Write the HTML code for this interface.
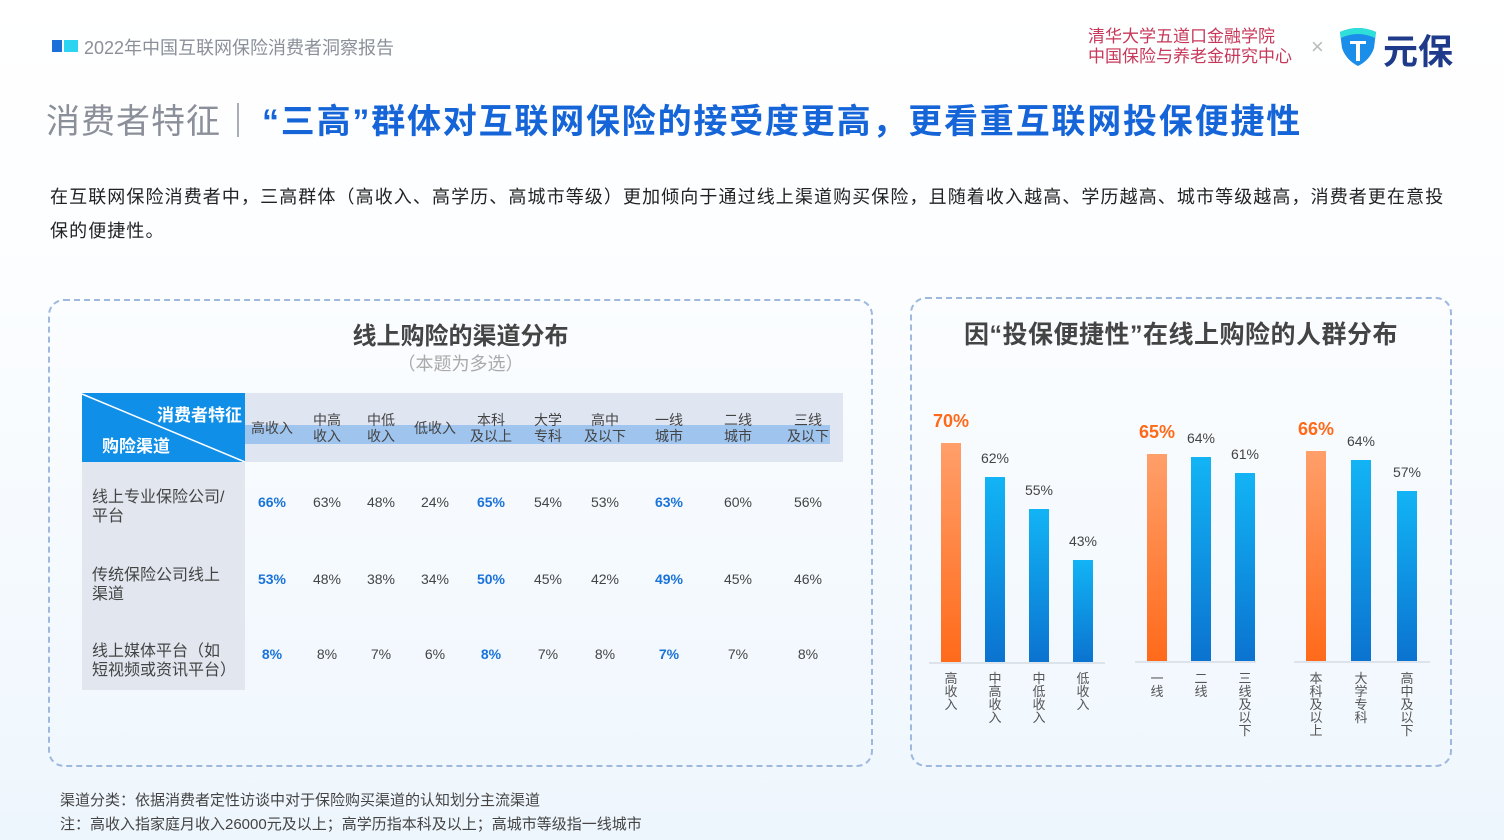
<!DOCTYPE html>
<html><head><meta charset="utf-8"><style>
*{margin:0;padding:0;box-sizing:border-box}
body{width:1504px;height:840px;position:relative;overflow:hidden;background:linear-gradient(#ffffff 0,#fbfdff 300px,#eef6fd 840px);font-family:"Liberation Sans","Noto Sans CJK SC",sans-serif;color:#333}
.a{position:absolute;white-space:nowrap}
.c{text-align:center}
.box{position:absolute;border:2px dashed #9fb8de;border-radius:16px}
.hc{position:absolute;top:393px;height:69px;font-size:14px;color:#444;line-height:16px;text-align:center;display:flex;align-items:center;justify-content:center}
.v{position:absolute;font-size:14px;color:#444;text-align:center;width:54px}
.b{color:#1a73d9;font-weight:bold}
.bar{position:absolute;width:20px;background:linear-gradient(#12b4f5,#0b73d0)}
.bar.o{background:linear-gradient(#ff9f6a,#ff6a1a)}
.bl{position:absolute;font-size:14px;color:#444;width:60px;text-align:center}
.bl.o{color:#ff6a1a;font-weight:bold;font-size:18px}
.xl{position:absolute;font-size:13px;color:#555;width:14px;line-height:13px;text-align:center;word-break:break-all;white-space:normal}
.base{position:absolute;height:2px;background:#dde3ea}
</style></head><body>
<div class="a" style="left:52px;top:40px;width:10px;height:12px;background:#1a6fd9"></div>
<div class="a" style="left:64px;top:40px;width:14px;height:12px;background:#2bd4f0"></div>
<div class="a" style="left:84px;top:34px;font-size:18px;color:#8a8f99">2022年中国互联网保险消费者洞察报告</div>
<div class="a" style="left:1088px;top:27px;font-size:17px;line-height:20px;color:#c7385a">清华大学五道口金融学院<br>中国保险与养老金研究中心</div>
<div class="a" style="left:1311px;top:34px;font-size:22px;color:#bbb">×</div>
<svg class="a" style="left:1338px;top:26px" width="40" height="42" viewBox="0 0 40 42"><path d="M2 6 Q20 -2 38 6 L36 22 Q32 34 20 40 Q8 34 4 22Z" fill="#1a8ee8"/><path d="M2 6 Q20 -2 38 6 L37 12 Q20 4 3 12Z" fill="#2ee0d8"/><rect x="12" y="15" width="16" height="3" fill="#fff"/><rect x="18" y="15" width="4" height="20" fill="#fff"/></svg>
<div class="a" style="left:1383px;top:24px;font-size:35px;font-weight:bold;color:#1e3a8a">元保</div>
<div class="a" style="left:46px;top:94px;font-size:34px;color:#8a8f99;letter-spacing:1px">消费者特征｜</div>
<div class="a" style="left:262px;top:94px;font-size:34px;font-weight:bold;color:#1565d8;letter-spacing:1.8px">“三高”群体对互联网保险的接受度更高，更看重互联网投保便捷性</div>
<div class="a" style="left:50px;top:180px;font-size:18px;line-height:34px;color:#222;white-space:normal;width:1410px;letter-spacing:1.1px">在互联网保险消费者中，三高群体（高收入、高学历、高城市等级）更加倾向于通过线上渠道购买保险，且随着收入越高、学历越高、城市等级越高，消费者更在意投保的便捷性。</div>

<div class="box" style="left:48px;top:299px;width:825px;height:468px"></div>
<div class="box" style="left:910px;top:297px;width:542px;height:470px"></div>
<div class="a c" style="left:48px;width:825px;top:316px;font-size:24px;font-weight:bold;color:#444">线上购险的渠道分布</div>
<div class="a c" style="left:48px;width:825px;top:350px;font-size:18px;color:#aaa">（本题为多选）</div>
<div class="a c" style="left:910px;width:542px;top:315px;font-size:25px;font-weight:bold;color:#444;letter-spacing:0.5px">因“投保便捷性”在线上购险的人群分布</div>

<!-- table -->
<div class="a" style="left:245px;top:393px;width:598px;height:69px;background:#dfe6f2"></div>
<div class="a" style="left:245px;top:425px;width:585px;height:19px;background:#9fc4ee"></div>
<div class="a" style="left:82px;top:462px;width:163px;height:228px;background:#e1e6ef"></div>
<svg class="a" style="left:82px;top:393px" width="163" height="69"><rect width="163" height="69" fill="#0f8fe8"/><line x1="0" y1="1" x2="163" y2="69" stroke="#fff" stroke-width="1.5"/></svg>
<div class="a" style="left:157px;top:401px;font-size:17px;font-weight:bold;color:#fff">消费者特征</div>
<div class="a" style="left:102px;top:432px;font-size:17px;font-weight:bold;color:#fff">购险渠道</div>
<div class="hc" style="left:246px;width:52px">高收入</div>
<div class="hc" style="left:300px;width:54px">中高<br>收入</div>
<div class="hc" style="left:354px;width:54px">中低<br>收入</div>
<div class="hc" style="left:408px;width:54px">低收入</div>
<div class="hc" style="left:464px;width:54px">本科<br>及以上</div>
<div class="hc" style="left:521px;width:54px">大学<br>专科</div>
<div class="hc" style="left:578px;width:54px">高中<br>及以下</div>
<div class="hc" style="left:642px;width:54px">一线<br>城市</div>
<div class="hc" style="left:711px;width:54px">二线<br>城市</div>
<div class="hc" style="left:781px;width:54px">三线<br>及以下</div>
<div class="a" style="left:92px;top:488px;font-size:16px;line-height:19px;color:#444">线上专业保险公司/<br>平台</div>
<div class="a" style="left:92px;top:566px;font-size:16px;line-height:19px;color:#444">传统保险公司线上<br>渠道</div>
<div class="a" style="left:92px;top:642px;font-size:16px;line-height:19px;color:#444">线上媒体平台（如<br>短视频或资讯平台）</div>

<div class="v b" style="left:245px;top:494px">66%</div><div class="v" style="left:300px;top:494px">63%</div><div class="v" style="left:354px;top:494px">48%</div><div class="v" style="left:408px;top:494px">24%</div><div class="v b" style="left:464px;top:494px">65%</div><div class="v" style="left:521px;top:494px">54%</div><div class="v" style="left:578px;top:494px">53%</div><div class="v b" style="left:642px;top:494px">63%</div><div class="v" style="left:711px;top:494px">60%</div><div class="v" style="left:781px;top:494px">56%</div>
<div class="v b" style="left:245px;top:571px">53%</div><div class="v" style="left:300px;top:571px">48%</div><div class="v" style="left:354px;top:571px">38%</div><div class="v" style="left:408px;top:571px">34%</div><div class="v b" style="left:464px;top:571px">50%</div><div class="v" style="left:521px;top:571px">45%</div><div class="v" style="left:578px;top:571px">42%</div><div class="v b" style="left:642px;top:571px">49%</div><div class="v" style="left:711px;top:571px">45%</div><div class="v" style="left:781px;top:571px">46%</div>
<div class="v b" style="left:245px;top:646px">8%</div><div class="v" style="left:300px;top:646px">8%</div><div class="v" style="left:354px;top:646px">7%</div><div class="v" style="left:408px;top:646px">6%</div><div class="v b" style="left:464px;top:646px">8%</div><div class="v" style="left:521px;top:646px">7%</div><div class="v" style="left:578px;top:646px">8%</div><div class="v b" style="left:642px;top:646px">7%</div><div class="v" style="left:711px;top:646px">7%</div><div class="v" style="left:781px;top:646px">8%</div>

<!-- bars -->
<div class="base" style="left:929px;top:662px;width:176px"></div>
<div class="base" style="left:1135px;top:661px;width:121px"></div>
<div class="base" style="left:1294px;top:661px;width:136px"></div>
<div class="bar o" style="left:941px;top:443px;height:219px"></div>
<div class="bar" style="left:985px;top:477px;height:185px"></div>
<div class="bar" style="left:1029px;top:509px;height:153px"></div>
<div class="bar" style="left:1073px;top:560px;height:102px"></div>
<div class="bar o" style="left:1147px;top:454px;height:207px"></div>
<div class="bar" style="left:1191px;top:457px;height:204px"></div>
<div class="bar" style="left:1235px;top:473px;height:188px"></div>
<div class="bar o" style="left:1306px;top:451px;height:210px"></div>
<div class="bar" style="left:1351px;top:460px;height:201px"></div>
<div class="bar" style="left:1397px;top:491px;height:170px"></div>
<div class="bl o" style="left:921px;top:411px">70%</div>
<div class="bl" style="left:965px;top:450px">62%</div>
<div class="bl" style="left:1009px;top:482px">55%</div>
<div class="bl" style="left:1053px;top:533px">43%</div>
<div class="bl o" style="left:1127px;top:422px">65%</div>
<div class="bl" style="left:1171px;top:430px">64%</div>
<div class="bl" style="left:1215px;top:446px">61%</div>
<div class="bl o" style="left:1286px;top:419px">66%</div>
<div class="bl" style="left:1331px;top:433px">64%</div>
<div class="bl" style="left:1377px;top:464px">57%</div>
<div class="xl" style="left:944px;top:672px">高收入</div>
<div class="xl" style="left:988px;top:672px">中高收入</div>
<div class="xl" style="left:1032px;top:672px">中低收入</div>
<div class="xl" style="left:1076px;top:672px">低收入</div>
<div class="xl" style="left:1150px;top:672px">一线</div>
<div class="xl" style="left:1194px;top:672px">二线</div>
<div class="xl" style="left:1238px;top:672px">三线及以下</div>
<div class="xl" style="left:1309px;top:672px">本科及以上</div>
<div class="xl" style="left:1354px;top:672px">大学专科</div>
<div class="xl" style="left:1400px;top:672px">高中及以下</div>

<div class="a" style="left:60px;top:789px;font-size:15px;color:#444">渠道分类：依据消费者定性访谈中对于保险购买渠道的认知划分主流渠道</div>
<div class="a" style="left:60px;top:813px;font-size:15px;color:#444">注：高收入指家庭月收入26000元及以上；高学历指本科及以上；高城市等级指一线城市</div>
</body></html>
